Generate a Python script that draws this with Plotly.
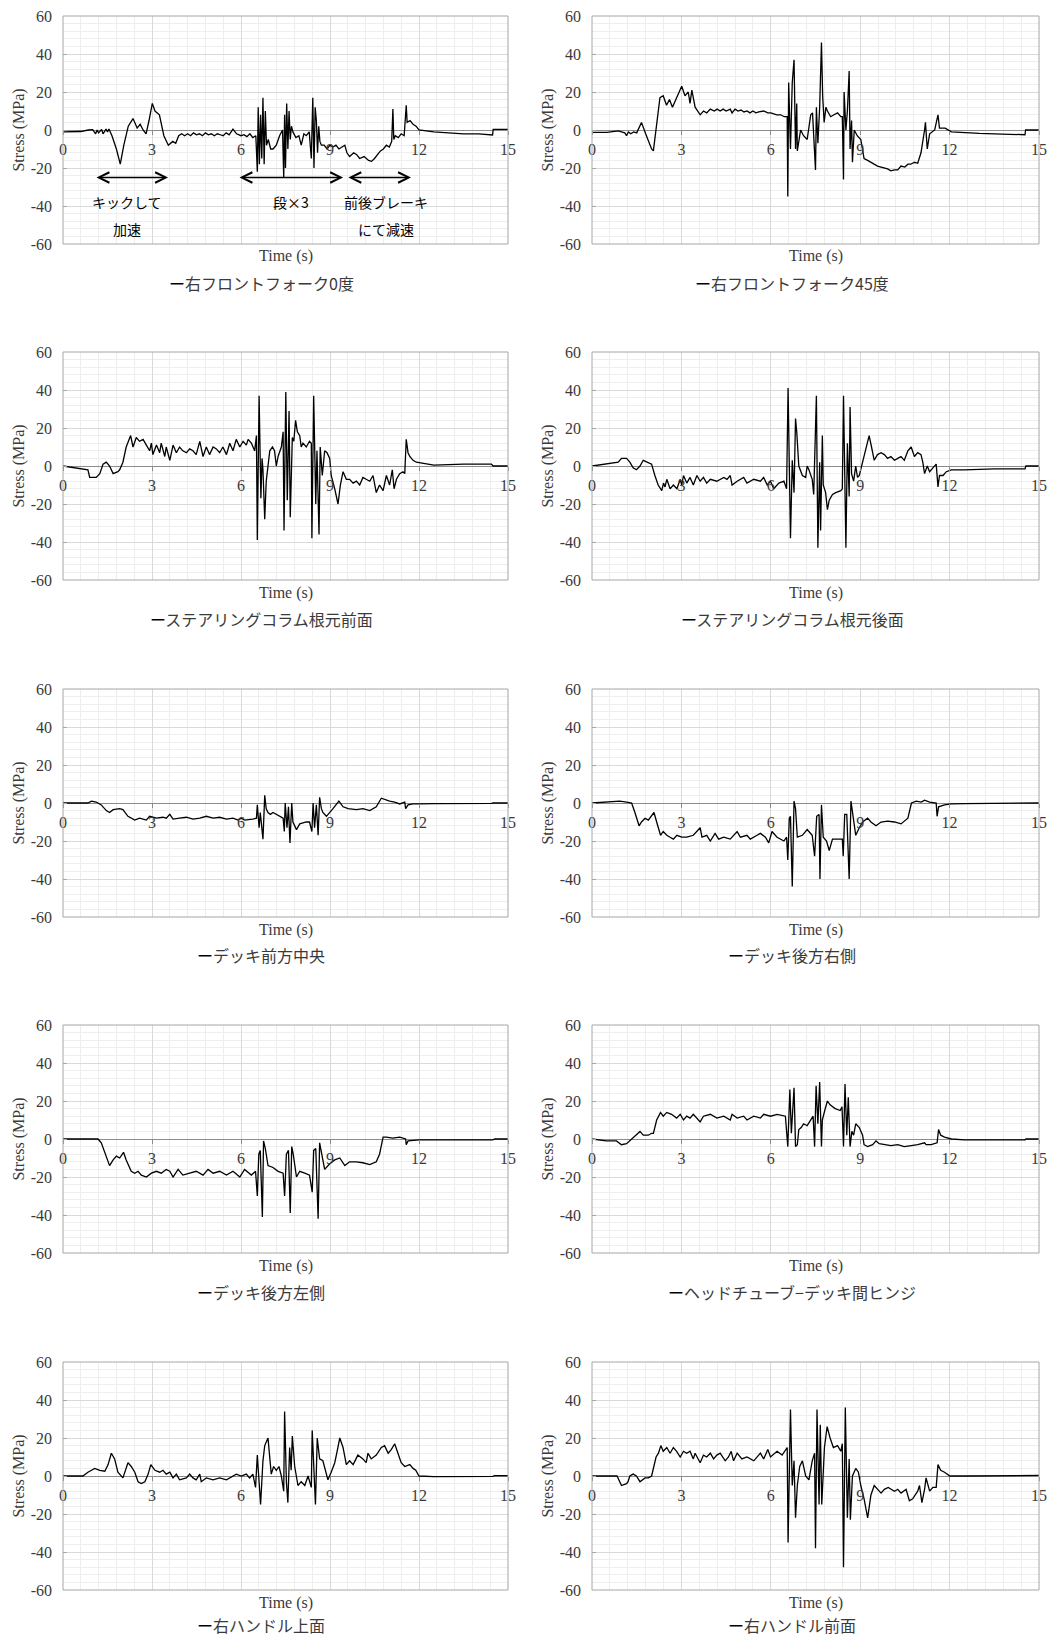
import plotly.graph_objects as go

# ---------------------------------------------------------------
# Stress histories (time in s, stress in MPa) at ten gauge points
# ---------------------------------------------------------------
fork0_t = [0, 0.3, 0.6, 0.85, 1.0, 1.1, 1.15, 1.2, 1.3, 1.35,
           1.45, 1.5, 1.55, 1.65, 1.8, 1.93, 2.05, 2.2, 2.36, 2.5,
           2.6, 2.7, 2.8, 2.9, 3.01, 3.1, 3.25, 3.4, 3.55, 3.7,
           3.8, 3.9, 4.0, 4.1, 4.2, 4.3, 4.4, 4.5, 4.6, 4.7,
           4.8, 4.9, 5.0, 5.1, 5.2, 5.3, 5.4, 5.5, 5.6, 5.73,
           5.85, 6.0, 6.1, 6.2, 6.3, 6.4, 6.5, 6.55, 6.58, 6.62,
           6.66, 6.7, 6.74, 6.78, 6.82, 6.86, 6.92, 7.0, 7.08, 7.19,
           7.3, 7.4, 7.44, 7.47, 7.5, 7.54, 7.58, 7.62, 7.66, 7.7,
           7.75, 7.85, 7.95, 8.03, 8.12, 8.2, 8.3, 8.37, 8.42, 8.46,
           8.5, 8.54, 8.58, 8.62, 8.66, 8.71, 8.8, 8.9, 9.0, 9.1,
           9.2, 9.3, 9.4, 9.5, 9.57, 9.66, 9.8, 9.9, 10.0, 10.15,
           10.3, 10.4, 10.5, 10.6, 10.7, 10.8, 10.9, 11.0, 11.08, 11.12,
           11.15, 11.2, 11.3, 11.4, 11.5, 11.57, 11.6, 11.7, 11.8, 11.9,
           12.0, 12.5, 13.0, 13.5, 14.0, 14.48, 14.5, 15.0]
fork0_s = [-1, -1, -0.8, 0, 0.2, -2, 0, -1.5, 0.3, -2,
           0.5, -1, 0.5, -3, -10, -18, -8, 2, 6, 1,
           3, 0, -2, 5, 14, 10, 8, -3, -8, -6,
           -7, -3, -2, -3, -2, -3, -1.5, -2.5, -2, -3,
           -1.5, -2.5, -2, -3, -2, -2.5, -3, -1.5, -2.5, 0.5,
           -2, -3, -2.5, -3.5, -2, -4, -3, -22, 12, -18,
           8, -15, 17, -18, 10, -8, -5, -10, -10, -8,
           -3, 0, -25, 8, -20, 14, -10, 10, -5, 2,
           -1, -4, -3, -8, -2, -3, -1, -15, 17, -20,
           12, 5, -12, 2, -6, -8, -8, -10, -8, -9,
           -8, -10, -9, -8, -12, -14, -12, -13, -15, -14,
           -16, -16.5, -15, -13, -11, -10, -8, -9, -6, 11,
           -5, -3, -4, -2, -3, 13, 4, 5, 3, 2,
           0, -1, -1.5, -2, -2, -2.6, 0.3, 0.3]

fork45_t = [0, 0.5, 0.88, 1.0, 1.1, 1.16, 1.22, 1.3, 1.4, 1.5,
            1.66, 1.8, 2.0, 2.06, 2.28, 2.39, 2.5, 2.6, 2.7, 2.84,
            3.01, 3.12, 3.23, 3.29, 3.35, 3.46, 3.63, 3.74, 3.85, 3.97,
            4.1, 4.2, 4.3, 4.4, 4.5, 4.64, 4.7, 4.8, 4.9, 5.0,
            5.1, 5.2, 5.3, 5.4, 5.5, 5.6, 5.76, 5.9, 6.0, 6.1,
            6.2, 6.33, 6.45, 6.55, 6.57, 6.6, 6.66, 6.72, 6.78, 6.83,
            6.87, 6.89, 7.0, 7.1, 7.22, 7.34, 7.4, 7.5, 7.53, 7.58,
            7.64, 7.7, 7.74, 7.79, 7.85, 7.9, 8.01, 8.12, 8.24, 8.35,
            8.4, 8.44, 8.46, 8.52, 8.57, 8.63, 8.66, 8.71, 8.74, 8.8,
            8.9, 9.02, 9.13, 9.25, 9.36, 9.5, 9.58, 9.7, 9.81, 9.92,
            10.03, 10.15, 10.26, 10.37, 10.5, 10.6, 10.7, 10.82, 10.93, 11.04,
            11.16, 11.19, 11.25, 11.33, 11.5, 11.61, 11.66, 11.85, 12.06, 12.5,
            13.0, 13.5, 14.0, 14.53, 14.55, 15.0]
fork45_s = [-1.3, -1.2, -0.5, -1, -1.5, -3, -1, -2, -1, -1.5,
            4, -2, -10, -11, 17, 18, 13, 16, 12, 17,
            23, 18, 20, 14, 21, 12, 8, 10, 9, 11,
            10, 11, 10, 11, 10, 11, 9, 11, 10, 10.5,
            9.5, 10, 9, 10, 9, 9.5, 10, 9, 9, 8.5,
            8, 8, 7, 7, -35, 25, -10, 25, 37, -10,
            14, -11, 0, -3, -5, 8, 9, -21, 12, -7,
            12, 46, 18, 4, 12, 10, 7, 8, 9, 7,
            7, -26, 20, 0, 10, 31, -10, 5, -17, 0,
            -3, -5, -15, -16, -17, -18, -19, -19.5, -20, -20.5,
            -21.5, -21, -21, -19, -19.5, -18, -18, -17, -17.5, -12,
            0, 4, -10, -2, 0, 8, 1, 1, -1, -1.5,
            -1.8, -2, -2.2, -2.5, 0, 0]

colf_t = [0, 0.5, 0.84, 0.9, 1.12, 1.24, 1.35, 1.46, 1.57, 1.69,
          1.85, 1.91, 2.02, 2.13, 2.28, 2.36, 2.47, 2.58, 2.7, 2.81,
          2.92, 2.98, 3.03, 3.15, 3.26, 3.31, 3.43, 3.48, 3.6, 3.71,
          3.82, 3.93, 4.04, 4.16, 4.27, 4.38, 4.49, 4.61, 4.72, 4.83,
          4.94, 5.06, 5.17, 5.28, 5.39, 5.51, 5.62, 5.73, 5.84, 5.96,
          6.07, 6.18, 6.24, 6.35, 6.46, 6.52, 6.55, 6.61, 6.67, 6.71,
          6.74, 6.8, 6.85, 6.91, 6.97, 7.06, 7.13, 7.19, 7.25, 7.36,
          7.42, 7.45, 7.51, 7.56, 7.62, 7.66, 7.73, 7.78, 7.84, 7.9,
          7.98, 8.03, 8.09, 8.2, 8.31, 8.37, 8.39, 8.45, 8.52, 8.56,
          8.63, 8.67, 8.74, 8.82, 8.9, 8.99, 9.04, 9.16, 9.27, 9.35,
          9.44, 9.55, 9.66, 9.78, 9.89, 10.0, 10.11, 10.22, 10.34, 10.45,
          10.56, 10.67, 10.79, 10.9, 11.01, 11.1, 11.16, 11.24, 11.35, 11.46,
          11.52, 11.57, 11.63, 11.69, 11.8, 11.91, 12.13, 12.5, 13.5, 14.44,
          14.5, 15.0]
colf_s = [0, -1, -2, -6, -6, -4, 1, 2, 0, -4,
          -3, -2, 2, 10, 16, 10, 15, 13, 14, 11,
          8, 12, 6, 11, 7, 12, 5, 10, 3, 11,
          7, 10, 8, 7, 9, 8, 6, 13, 5, 10,
          6, 10, 9, 7, 10, 6, 12, 8, 14, 10,
          13, 11, 14, 12, 8, 16, -39, 37, -17, 4,
          -2, -28, -8, 0, 8, 10, 8, 0, 5, 10,
          18, -34, 39, -18, 29, -27, 15, 13, 24, 18,
          16, 10, 12, 10, 13, 12, -38, 37, -20, 8,
          -36, 10, -5, 8, 7, 4, -5, -12, -20, -10,
          -3, -7, -7, -9, -8, -10, -6, -7, -8, -5,
          -14, -10, -13, -5, -10, -2, -12, -7, -4, -3,
          -4, 14, 7, 5, 3, 2, 1.5, 0.5, 1, 1,
          0, 0]

colr_t = [0, 0.37, 0.88, 0.99, 1.16, 1.27, 1.38, 1.49, 1.61, 1.72,
          1.89, 2.0, 2.11, 2.22, 2.34, 2.4, 2.45, 2.51, 2.62, 2.73,
          2.85, 2.96, 3.01, 3.07, 3.18, 3.29, 3.4, 3.52, 3.63, 3.74,
          3.85, 3.97, 4.19, 4.42, 4.53, 4.64, 4.7, 4.87, 5.09, 5.2,
          5.43, 5.65, 5.76, 5.88, 5.99, 6.1, 6.27, 6.44, 6.53, 6.58,
          6.66, 6.72, 6.78, 6.83, 6.87, 6.94, 7.06, 7.17, 7.22, 7.28,
          7.39, 7.44, 7.53, 7.58, 7.64, 7.67, 7.73, 7.76, 7.84, 7.9,
          7.96, 8.07, 8.18, 8.35, 8.4, 8.44, 8.52, 8.57, 8.63, 8.66,
          8.71, 8.78, 8.85, 8.91, 8.97, 9.08, 9.19, 9.3, 9.38, 9.47,
          9.58, 9.7, 9.81, 9.92, 10.03, 10.15, 10.26, 10.37, 10.48, 10.6,
          10.71, 10.82, 10.93, 11.04, 11.1, 11.16, 11.25, 11.33, 11.44, 11.55,
          11.61, 11.66, 11.78, 11.89, 12.06, 12.5, 13.5, 14.53, 14.56, 15.0]
colr_s = [0, 1, 2, 4, 4, 2, -1, -2, 0, 3,
          2, 1, -5, -10, -13, -9, -11, -7, -12, -10,
          -12, -7, -10, -5, -9, -6, -10, -5, -8, -6,
          -9, -7, -8, -6, -7, -5, -10, -8, -6, -9,
          -7, -8, -6, -10, -8, -12, -9, -8, -12, 41,
          -38, 3, -14, 25, 18, 0, -5, -6, 0, -2,
          -7, -15, 37, -43, 2, -34, 16, -10, -14, -23,
          -18, -15, -14, -13, -12, 37, -43, 12, -16, 31,
          -4, -8, 0, -6, -5, 2, 10, 16, 10, 3,
          6, 7, 6, 4, 5, 3, 4, 5, 3, 8,
          10, 5, 7, 6, 2, -4, 0, -3, -1, 1,
          -11, -5, -5, -3, -2, -2, -1.5, -1.5, 0, 0]

deckfc_t = [0, 0.84, 0.96, 1.12, 1.29, 1.46, 1.57, 1.69, 1.91, 2.02,
            2.19, 2.3, 2.42, 2.58, 2.81, 2.92, 3.15, 3.37, 3.48, 3.6,
            3.71, 3.93, 4.16, 4.38, 4.61, 4.83, 5.06, 5.28, 5.51, 5.73,
            5.9, 6.01, 6.12, 6.4, 6.52, 6.55, 6.61, 6.65, 6.7, 6.74,
            6.8, 6.85, 6.91, 6.99, 7.08, 7.19, 7.3, 7.42, 7.46, 7.49,
            7.55, 7.6, 7.65, 7.71, 7.75, 7.87, 7.98, 8.2, 8.31, 8.39,
            8.43, 8.48, 8.54, 8.6, 8.65, 8.71, 8.76, 8.88, 9.1, 9.3,
            9.44, 9.61, 9.89, 10.11, 10.34, 10.56, 10.73, 10.9, 11.01, 11.18,
            11.35, 11.52, 11.55, 11.63, 11.8, 12.02, 12.5, 14.44, 14.5, 15.0]
deckfc_s = [0, 0, 1, 0.5, -1, -4, -5, -3.5, -3, -3.5,
            -7, -8, -9, -8, -9, -7, -8, -7.5, -8, -6,
            -8.5, -8, -7.5, -8.5, -8, -7, -8, -7.5, -8.5, -8,
            -9, -8, -9, -8.5, -8, -1, -13, -5, -14, -19,
            4, -3, -5, -6, -5, -6, -7, -8, -15, 0,
            -13, -2, -21, 0, -10, -14, -11, -10, -10, -15,
            0, -13, -1, -17, 3, -3, -5, -7, -3, 1,
            -2, -3, -3.5, -3, -4, -2, 2.5, 1.5, 1, 0.5,
            -0.5, 0.5, -3, -1, -0.5, -0.5, -0.3, -0.2, 0, 0]

deckrr_t = [0, 0.48, 0.93, 1.16, 1.33, 1.44, 1.58, 1.66, 1.78, 1.89,
            2.0, 2.08, 2.17, 2.3, 2.39, 2.51, 2.62, 2.73, 2.85, 3.01,
            3.18, 3.4, 3.63, 3.69, 3.85, 3.97, 4.13, 4.25, 4.42, 4.64,
            4.87, 4.98, 5.2, 5.31, 5.54, 5.65, 5.82, 5.93, 6.04, 6.21,
            6.44, 6.53, 6.57, 6.62, 6.66, 6.72, 6.78, 6.83, 6.89, 7.06,
            7.22, 7.39, 7.47, 7.54, 7.62, 7.65, 7.7, 7.76, 7.87, 7.96,
            8.07, 8.24, 8.4, 8.43, 8.48, 8.55, 8.63, 8.69, 8.74, 8.85,
            8.97, 9.08, 9.25, 9.36, 9.53, 9.7, 9.92, 10.15, 10.37, 10.6,
            10.72, 10.88, 11.05, 11.16, 11.33, 11.55, 11.58, 11.63, 11.83, 12.06,
            12.5, 14.5, 15.0]
deckrr_s = [0, 0.5, 1, 0.5, 0, -5, -12, -10, -8, -9,
            -7, -5, -10, -17, -15, -17, -18, -19, -17, -18,
            -18, -17, -13, -18, -17, -20, -16, -19, -18, -19,
            -15, -18, -17, -19, -17, -16, -18, -21, -15, -18,
            -20, -18, -30, -8, -7, -44, 1, -3, -18, -17,
            -14, -17, -28, -7, -6, -40, -1, -18, -20, -25,
            -19, -19, -19, -28, -6, -6, -40, 1, -5, -17,
            -13, -10, -8, -10, -12, -10, -9.5, -10, -11, -8,
            0, 1, 0.5, 1.5, 0.5, 0, -7, -2, -1, -0.5,
            -0.3, -0.2, 0]

deckrl_t = [0, 0.9, 1.18, 1.29, 1.4, 1.57, 1.69, 1.8, 1.91, 2.04,
            2.13, 2.3, 2.42, 2.53, 2.64, 2.81, 2.98, 3.15, 3.31, 3.48,
            3.6, 3.71, 3.88, 4.04, 4.27, 4.49, 4.72, 4.89, 5.06, 5.28,
            5.51, 5.73, 5.96, 6.12, 6.35, 6.49, 6.55, 6.6, 6.65, 6.72,
            6.76, 6.82, 6.91, 7.08, 7.25, 7.42, 7.47, 7.53, 7.6, 7.66,
            7.71, 7.76, 7.87, 7.98, 8.15, 8.31, 8.4, 8.45, 8.52, 8.6,
            8.65, 8.71, 8.82, 8.99, 9.16, 9.33, 9.5, 9.66, 9.89, 10.11,
            10.34, 10.56, 10.67, 10.79, 10.9, 11.12, 11.35, 11.55, 11.57, 11.63,
            12.02, 14.49, 14.55, 15.0]
deckrl_s = [0, 0.3, 0, -2, -7, -14, -11, -9, -10, -7,
            -11, -17, -18, -17, -19, -20, -18, -17, -18, -16,
            -17, -20, -16, -19, -18, -17, -19, -16, -18, -17,
            -19, -17, -20, -16, -19, -17, -30, -8, -6, -41,
            -1, -5, -14, -15, -17, -18, -30, -8, -6, -39,
            -4, -8, -20, -17, -18, -19, -28, -6, -5, -42,
            -2, -7, -16, -13, -11, -10, -14, -12, -12, -12.5,
            -13.5, -12, -8, 1, 1, 0.5, 1, 0, -3, -1,
            -0.5, -0.5, 0, 0]

hinge_t = [0, 0.48, 0.82, 0.99, 1.16, 1.33, 1.49, 1.61, 1.72, 1.89,
           2.0, 2.06, 2.17, 2.3, 2.39, 2.51, 2.67, 2.84, 2.96, 3.07,
           3.18, 3.29, 3.4, 3.52, 3.63, 3.74, 3.97, 4.19, 4.42, 4.64,
           4.7, 4.87, 5.09, 5.2, 5.43, 5.65, 5.76, 5.99, 6.21, 6.49,
           6.57, 6.64, 6.69, 6.78, 6.83, 6.89, 6.94, 7.02, 7.1, 7.22,
           7.33, 7.42, 7.47, 7.52, 7.58, 7.64, 7.7, 7.73, 7.81, 7.9,
           7.99, 8.16, 8.33, 8.39, 8.44, 8.49, 8.55, 8.6, 8.66, 8.72,
           8.78, 8.85, 8.97, 9.08, 9.13, 9.25, 9.42, 9.53, 9.64, 9.81,
           10.03, 10.26, 10.48, 10.71, 10.93, 11.16, 11.21, 11.38, 11.58, 11.63,
           11.7, 11.83, 12.06, 12.5, 14.53, 14.56, 15.0]
hinge_s = [0, -1, -1, -3, -2.5, 0, 2, 4, 2, 2,
           3, 3, 10, 14, 12, 14, 13, 11, 13, 10,
           12, 11, 13, 11, 9, 12, 13, 11, 12, 10,
           13, 11, 12, 10, 12, 11, 13, 12, 13, 12,
           -4, 26, 3, 27, -4, -3, 5, 6, 8, 7,
           10, 12, -4, 28, 8, 30, -4, 10, 15, 20,
           18, 16, 15, 17, -4, 29, 2, 22, -4, 4,
           2, 8, 6, 2, -3, -4, -3, -1, -2.5, -3,
           -3.5, -3, -4, -3.5, -3, -2, -3, -3, -2, 5,
           2, 1, 0, -0.5, -0.5, 0, 0]

hdltop_t = [0, 0.67, 0.84, 1.07, 1.24, 1.41, 1.52, 1.63, 1.74, 1.85,
            2.02, 2.13, 2.19, 2.3, 2.42, 2.53, 2.64, 2.76, 2.87, 2.96,
            3.1, 3.26, 3.37, 3.48, 3.6, 3.71, 3.82, 3.93, 4.16, 4.27,
            4.38, 4.49, 4.61, 4.66, 4.83, 5.06, 5.28, 5.51, 5.73, 5.84,
            6.01, 6.18, 6.29, 6.4, 6.49, 6.55, 6.66, 6.74, 6.8, 6.85,
            6.91, 7.02, 7.1, 7.19, 7.28, 7.36, 7.44, 7.47, 7.53, 7.58,
            7.64, 7.69, 7.73, 7.81, 7.92, 8.03, 8.15, 8.26, 8.37, 8.4,
            8.51, 8.57, 8.65, 8.76, 8.88, 8.93, 9.04, 9.16, 9.24, 9.33,
            9.44, 9.55, 9.66, 9.78, 9.94, 10.11, 10.22, 10.28, 10.39, 10.56,
            10.73, 10.84, 10.96, 11.07, 11.18, 11.29, 11.4, 11.52, 11.69, 11.8,
            11.89, 12.0, 12.5, 14.49, 14.55, 15.0]
hdltop_s = [0, 0, 2, 4, 3, 2.5, 6, 12, 9, 2,
            -1, 4, 7, 5, 2, -3, -4, -3, 1, 6,
            3, 2, 3, 1, 2, -1, 1, -2, -1, 1,
            -1, -2, 1, -3, -1, -2, -1, -2, 0, 1,
            0, 1, -1, 1, -6, 11, -15, 8, 16, 18,
            20, 1, 5, 3, 5, 0, -8, 34, -3, -14,
            15, 3, 21, 5, -5, -3, -5, 0, -6, 24,
            -15, 20, 9, 8, 1, -2, 2, 7, 13, 20,
            15, 6, 8, 6, 11, 9, 7, 12, 9, 11,
            15, 16, 12, 14, 17, 12, 7, 5, 6, 4,
            3, 0, -0.3, -0.2, 0.2, 0.2]

hdlfront_t = [0, 0.84, 0.99, 1.16, 1.21, 1.27, 1.38, 1.49, 1.61, 1.78,
              1.89, 2.0, 2.15, 2.23, 2.31, 2.39, 2.51, 2.62, 2.73, 2.84,
              2.96, 3.07, 3.18, 3.29, 3.4, 3.46, 3.63, 3.74, 3.85, 3.97,
              4.08, 4.19, 4.3, 4.47, 4.58, 4.67, 4.75, 4.87, 5.03, 5.2,
              5.43, 5.65, 5.76, 5.9, 5.99, 6.21, 6.38, 6.55, 6.58, 6.66,
              6.72, 6.78, 6.83, 6.89, 6.97, 7.06, 7.17, 7.28, 7.39, 7.47,
              7.5, 7.55, 7.62, 7.66, 7.71, 7.8, 7.89, 7.99, 8.1, 8.24,
              8.35, 8.4, 8.44, 8.5, 8.57, 8.63, 8.67, 8.74, 8.85, 8.94,
              9.02, 9.13, 9.25, 9.36, 9.47, 9.58, 9.7, 9.81, 9.94, 10.15,
              10.26, 10.37, 10.54, 10.65, 10.76, 10.93, 10.99, 11.07, 11.16, 11.21,
              11.33, 11.44, 11.55, 11.61, 11.7, 11.83, 12.01, 12.5, 14.5, 14.55,
              15.0]
hdlfront_s = [0, 0, -5, -4, -3, 0, 1, 0, -3, -1,
              -1, 0, 10, 12, 16, 13, 15, 12, 15, 13,
              10, 13, 12, 13, 9, 12, 7, 11, 10, 12,
              9, 11, 12, 8, 10, 13, 8, 12, 9, 10,
              8, 12, 9, 14, 10, 13, 11, 15, -35, 35,
              -5, 8, -22, -5, 5, 8, 0, -2, 8, 12,
              -38, 35, -15, 27, -15, 15, 26, 20, 15, 16,
              13, 17, -48, 36, -22, 9, -23, 0, 4, 2,
              -5, -12, -22, -10, -5, -7, -9, -7, -6, -8,
              -7, -9, -7, -13, -12, -8, -5, -14, -7, -1,
              -8, -6, -6, 6, 3, 2, 0, 0, 0, 0.3,
              0.3]

panel_names = ["右フロントフォーク0度", "右フロントフォーク45度",
               "ステアリングコラム根元前面", "ステアリングコラム根元後面",
               "デッキ前方中央", "デッキ後方右側",
               "デッキ後方左側", "ヘッドチューブ−デッキ間ヒンジ",
               "右ハンドル上面", "右ハンドル前面"]

x_tick_vals = [0, 3, 6, 9, 12, 15]
y_tick_vals = [-60, -40, -20, 0, 20, 40, 60]
y_tick_text = ["-60", "-40", "-20", "0", "20", "40", "60"]

# phase notes on the first panel: (text, time, stress)
phase_labels = [("キックして", 2.15, -38), ("加速", 2.15, -52),
                ("段×3", 7.67, -38),
                ("前後ブレーキ", 10.9, -38), ("にて減速", 10.9, -52)]
# double arrows on the first panel: (start time, end time, stress)
phase_spans = [(1.08, 3.54, -25), (5.9, 9.44, -25), (9.57, 11.73, -25)]

series = [(fork0_t, fork0_s), (fork45_t, fork45_s),
          (colf_t, colf_s), (colr_t, colr_s),
          (deckfc_t, deckfc_s), (deckrr_t, deckrr_s),
          (deckrl_t, deckrl_s), (hinge_t, hinge_s),
          (hdltop_t, hdltop_s), (hdlfront_t, hdlfront_s)]
for t_vals, s_vals in series:
    if len(t_vals) != len(s_vals):
        raise ValueError("time / stress length mismatch")

# ---------------------------------------------------------------
# Page geometry (pixels)
# ---------------------------------------------------------------
W, H = 1059, 1639
COLS = [(63, 508), (592, 1039)]
CAPTION_X = [261, 792]
ROW_TOPS = [16, 352, 689, 1025, 1362]
CAPTION_GAP = [38.5, 38.5, 38.5, 38.5, 35]
PLOT_H = 228

SERIF = "Liberation Serif, Times New Roman, serif"
GOTHIC = "Noto Sans CJK JP, sans-serif"
TEXT_GRAY = "#3a3a3a"

fig = go.Figure()
layout = dict(width=W, height=H, margin=dict(l=0, r=0, t=0, b=0, pad=0),
              paper_bgcolor="white", plot_bgcolor="white",
              showlegend=False, annotations=[], shapes=[])

for i, (t_vals, s_vals) in enumerate(series):
    r, c = divmod(i, 2)
    n = i + 1
    xa = "x" if n == 1 else f"x{n}"
    ya = "y" if n == 1 else f"y{n}"
    x0, x1 = COLS[c]
    top = ROW_TOPS[r]
    bottom = top + PLOT_H
    ydom = [1 - bottom / H, 1 - top / H]
    xdom = [x0 / W, x1 / W]

    fig.add_trace(go.Scatter(x=t_vals, y=s_vals, mode="lines",
                             line=dict(color="black", width=1.3),
                             xaxis=xa, yaxis=ya, name=panel_names[i]))

    layout["xaxis" if n == 1 else f"xaxis{n}"] = dict(
        domain=xdom, range=[0, 15], anchor="free", automargin=False,
        position=(ydom[0] + ydom[1]) / 2,
        tickvals=x_tick_vals, ticks="outside", ticklen=4,
        tickcolor="#8c8c8c", ticklabelstandoff=1,
        tickfont=dict(family=SERIF, size=16, color=TEXT_GRAY),
        showline=False, zeroline=False,
        showgrid=True, gridcolor="#d9d9d9", gridwidth=1,
        minor=dict(tick0=0, dtick=0.6, showgrid=True,
                   gridcolor="#eeeeee", gridwidth=1),
    )
    layout["yaxis" if n == 1 else f"yaxis{n}"] = dict(
        domain=ydom, range=[-60, 60], anchor=xa, automargin=False,
        tickvals=y_tick_vals, ticktext=y_tick_text,
        ticks="inside", ticklen=4, tickcolor="#a6a6a6",
        ticklabelstandoff=10,
        tickfont=dict(family=SERIF, size=16, color=TEXT_GRAY),
        showline=False, zeroline=True, zerolinecolor="#8c8c8c",
        zerolinewidth=1,
        showgrid=True, gridcolor="#d9d9d9", gridwidth=1,
        minor=dict(tick0=0, dtick=4, showgrid=True,
                   gridcolor="#eeeeee", gridwidth=1),
        title=dict(text="Stress (MPa)", standoff=2,
                   font=dict(family=SERIF, size=16, color=TEXT_GRAY)),
    )

    # plot-area frame
    layout["shapes"].append(dict(type="rect", xref=f"{xa} domain",
                                 yref=f"{ya} domain", x0=0, x1=1, y0=0, y1=1,
                                 line=dict(color="#a6a6a6", width=1),
                                 layer="above"))
    # axis title under each plot
    layout["annotations"].append(dict(
        text="Time (s)", xref=f"{xa} domain", yref="paper",
        x=0.5, y=1 - (bottom + 12.5) / H, yanchor="middle",
        showarrow=False,
        font=dict(family=SERIF, size=16, color=TEXT_GRAY)))
    # series caption with line key
    layout["annotations"].append(dict(
        text="<span style='color:#000000'>ー</span>" + panel_names[i],
        xref="paper", yref="paper",
        x=CAPTION_X[c] / W, y=1 - (bottom + CAPTION_GAP[r]) / H,
        xanchor="center", yanchor="middle", showarrow=False,
        font=dict(family=GOTHIC, size=16, color=TEXT_GRAY)))

# phase notes on the first panel
for text, tx, sy in phase_labels:
    layout["annotations"].append(dict(
        text=text, xref="x", yref="y", x=tx, y=sy, showarrow=False,
        font=dict(family=GOTHIC, size=14, color="black")))
for t_start, t_end, sy in phase_spans:
    layout["annotations"].append(dict(
        text="", xref="x", yref="y", x=t_end, y=sy,
        axref="x", ayref="y", ax=t_start, ay=sy,
        showarrow=True, arrowside="end+start", arrowhead=5,
        arrowsize=1.6, arrowwidth=1.3, arrowcolor="black",
        standoff=0, startstandoff=0))

fig.update_layout(**layout)
fig.write_html("out.html")
